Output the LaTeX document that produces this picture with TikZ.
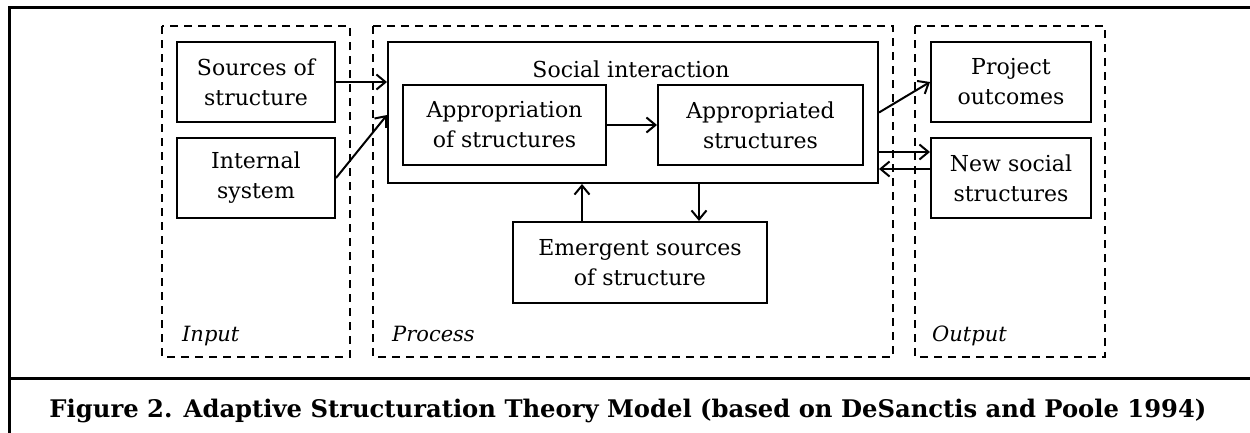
\documentclass[tikz,border=0pt]{standalone}
\usepackage{fontspec}
\usepackage{graphicx}
\setmainfont{DejaVu Serif}
\usetikzlibrary{arrows.meta,calc}
\begin{document}
\begin{tikzpicture}[x=1pt,y=-1pt,
  box/.style={draw,line width=2pt,align=center,inner sep=0pt,
    font=\fontsize{22}{30}\selectfont},
  dashbox/.style={draw,line width=2pt,dash pattern=on 8pt off 6pt},
  arr/.style={line width=2pt,-{Straight Barb[length=9pt,width=15pt,line width=2pt]}},
  lbl/.style={anchor=base west,inner sep=0pt,font=\fontsize{21}{24}\selectfont\itshape}
]
\useasboundingbox (0,0) rectangle (1250,432);
\fill[white] (0,0) rectangle (1250,432);
% outer frame
\draw[line width=3pt] (9,440) -- (9,7) -- (1260,7);
\draw[line width=3pt] (9,378) -- (1260,378);
% dashed groups
\draw[dashbox] (162,26) rectangle (350,357);
\draw[dashbox] (373,26) rectangle (893,357);
\draw[dashbox] (915,26) rectangle (1105,357);
\node[lbl] (lin) at (182,341) {Input};
\node[lbl] (lproc) at (392,341) {Process};
\node[lbl] (lout) at (932,341) {Output};
% boxes
\node[box,minimum width=158pt,minimum height=80pt] (src) at (256,82) {Sources of\\structure};
\node[box,minimum width=158pt,minimum height=80pt] (int) at (256,178) {Internal\\system};
\node[box,minimum width=490pt,minimum height=141pt] (soc) at (633,112.5) {};
\node[anchor=base,inner sep=0pt,font=\fontsize{22}{30}\selectfont] (soct) at (631,77) {Social interaction};
\node[box,minimum width=203pt,minimum height=80pt] (app) at (504.5,125) {Appropriation\\of structures};
\node[box,minimum width=205pt,minimum height=80pt] (apd) at (760.5,125) {Appropriated\\structures};
\node[box,minimum width=254pt,minimum height=81pt] (emer) at (640,262.5) {Emergent sources\\of structure};
\node[box,minimum width=160pt,minimum height=80pt] (proj) at (1011,82) {Project\\outcomes};
\node[box,minimum width=160pt,minimum height=80pt] (new) at (1011,178) {New social\\structures};
% connectors
\draw[arr] (src.east) -- (src.east -| soc.west);
\draw[arr] (int.east) -- ($(soc.west)+(0,2.5)$);
\draw[arr] (app.east) -- (apd.west);
\draw[arr] (soc.east) -- (proj.west);
\draw[arr] ($(soc.east)+(0,39.5)$) -- ($(new.west)+(0,-26)$);
\draw[arr] ($(new.west)+(0,-9)$) -- ($(soc.east)+(0,56.5)$);
\draw[arr] ($(emer.north)+(-58,0)$) -- ($(soc.south)+(-51,0)$);
\draw[arr] ($(soc.south)+(66,0)$) -- ($(emer.north)+(59,0)$);
% caption
\node[inner sep=0pt,anchor=base] (cap) at (628,417) {\resizebox{1157pt}{!}{\fontsize{20}{24}\selectfont\bfseries Figure 2. Adaptive Structuration Theory Model (based on DeSanctis and Poole 1994)}};
\end{tikzpicture}
\end{document}
